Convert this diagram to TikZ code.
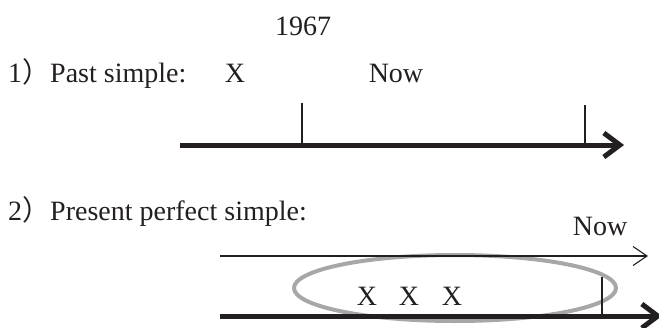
\documentclass[tikz,border=0pt]{standalone}
\usepackage{fontspec}
\setmainfont{Liberation Serif}
\newfontfamily\cjk{Noto Sans CJK JP}
\usetikzlibrary{arrows.meta,shapes.geometric}
\definecolor{ink}{HTML}{231F20}
\definecolor{ringgray}{HTML}{A7A7A7}
\begin{document}
\begin{tikzpicture}[x=1pt,y=-1pt,
  txt/.style={inner sep=0pt,text=ink,font=\fontsize{28}{32}\selectfont},
  thickaxis/.style={draw=ink,line width=5pt,-{Straight Barb[length=16pt,width=24pt]}},
  thinaxis/.style={draw=ink,line width=1.1pt,-{Straight Barb[length=14pt,width=19pt]}},
  tickmark/.style={draw=ink,line width=2pt},
  ring/.style={draw=ringgray,line width=4pt}
]
\useasboundingbox (0,0) rectangle (659,327);
\clip (0,0) rectangle (659,327);
% texts
\node[txt,anchor=base] (year) at (303,35) {1967};
\node[txt,anchor=base west] (lab1) at (8,82) {1{\cjk ）}Past simple:};
\node[txt,anchor=base] (x1) at (235,82) {X};
\node[txt,anchor=base] (now1) at (396,82) {Now};
\node[txt,anchor=base west] (lab2) at (8,220) {2{\cjk ）}Present perfect simple:};
\node[txt,anchor=base] (now2) at (600,235) {Now};
% row 1
\coordinate (a1s) at (180,145);
\coordinate (a1e) at (624,145);
\coordinate (t1a) at (302,103);
\coordinate (t1b) at (302,145);
\coordinate (t2a) at (585,105);
\coordinate (t2b) at (585,145);
\draw[thickaxis] (a1s) -- (a1e);
\draw[tickmark] (t1a) -- (t1b);
\draw[tickmark] (t2a) -- (t2b);
% row 2
\node[ring,ellipse,minimum width=322pt,minimum height=66pt,inner sep=0pt] (ring) at (455,288) {};
\coordinate (b1s) at (220,256);
\coordinate (b1e) at (648,256);
\coordinate (b2s) at (220,316);
\coordinate (b2e) at (662,316);
\coordinate (t3a) at (602,277);
\coordinate (t3b) at (602,316);
\draw[thinaxis] (b1s) -- (b1e);
\draw[thickaxis] (b2s) -- (b2e);
\draw[tickmark] (t3a) -- (t3b);
\node[txt,anchor=base] (xa) at (367,305) {X};
\node[txt,anchor=base] (xb) at (409,305) {X};
\node[txt,anchor=base] (xc) at (452,305) {X};
\end{tikzpicture}
\end{document}
